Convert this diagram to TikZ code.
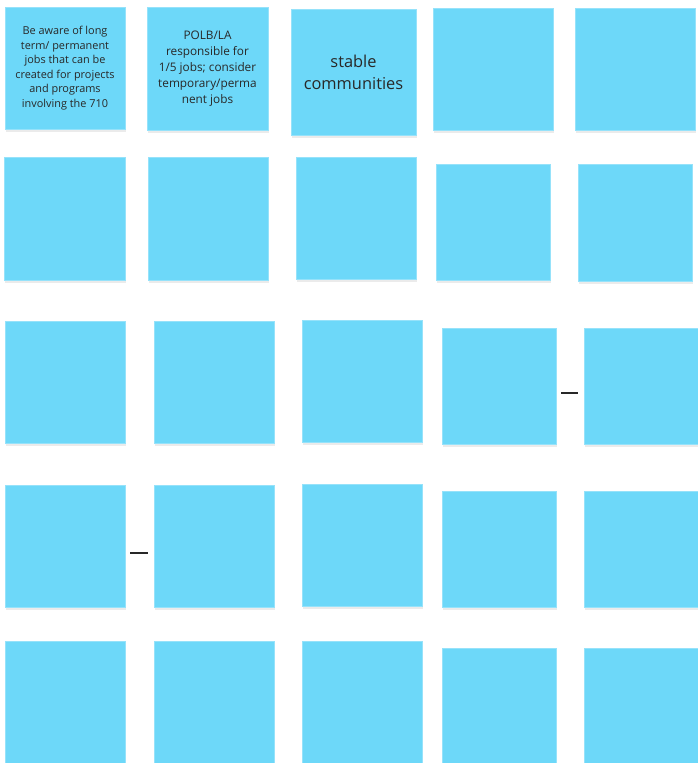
\documentclass[tikz,border=0pt]{standalone}
\usepackage{fontspec}
\setmainfont{Open Sans}
\usetikzlibrary{shadows}
\definecolor{stickyblue}{RGB}{109,216,249}
\definecolor{stickyedge}{RGB}{150,226,250}
\definecolor{inkgrey}{RGB}{40,40,40}
\tikzset{
  note/.style={draw=stickyedge, line width=0.6pt, fill=stickyblue, inner sep=2pt,
    align=center, text=inkgrey,
    general shadow={fill=black, opacity=0.08, shadow xshift=1pt, shadow yshift=-2.5pt}},
  dashline/.style={draw=inkgrey, line width=1.1pt}
}
\begin{document}
\begin{tikzpicture}[x=1pt, y=-1pt]
  \useasboundingbox (0,0) rectangle (697,763);
  % notes with text, top row
  \node[note, minimum width=120, minimum height=122, font=\fontsize{10.9}{14.5}\selectfont] (a1) at (65,68)
    {Be aware of long\\term/ permanent\\jobs that can be\\created for projects\\and programs\\involving the 710};
  \node[note, minimum width=121, minimum height=123, font=\fontsize{11.8}{16}\selectfont] (a2) at (207.5,68.5)
    {POLB/LA\\responsible for\\1/5 jobs; consider\\temporary/perma\\nent jobs};
  \node[note, minimum width=125, minimum height=126, font=\fontsize{16.4}{22}\selectfont] (a3) at (353.5,72)
    {stable\\communities};
  % empty notes
  \foreach \name/\x/\y/\w/\h in {a4/493/69/120/122, a5/635/69/120/122,
      b1/64.5/218.5/121/123, b2/208/218.5/120/123, b3/356/218/120/122, b4/493/222/114/116, b5/635/222.5/114/117,
      c1/65/382/120/122, c2/214/382/120/122, c3/362/381/120/122, c4/499/386/114/116, c5/641/386/114/116,
      d1/65/546/120/122, d2/214/546/120/122, d3/362/545/120/122, d4/499/549/114/116, d5/641/549/114/116,
      e1/65/702/120/122, e2/214/702/120/122, e3/362/702/120/122, e4/499/706/114/116, e5/641/706/114/116}
    \node[note, minimum width=\w, minimum height=\h] (\name) at (\x,\y) {};
  % short dashes between notes
  \draw[dashline] ([xshift=5pt, yshift=-7pt]c4.east) -- ([xshift=-6pt, yshift=-7pt]c5.west);
  \draw[dashline] ([xshift=5pt, yshift=-7pt]d1.east) -- ([xshift=-6pt, yshift=-7pt]d2.west);
\end{tikzpicture}
\end{document}
